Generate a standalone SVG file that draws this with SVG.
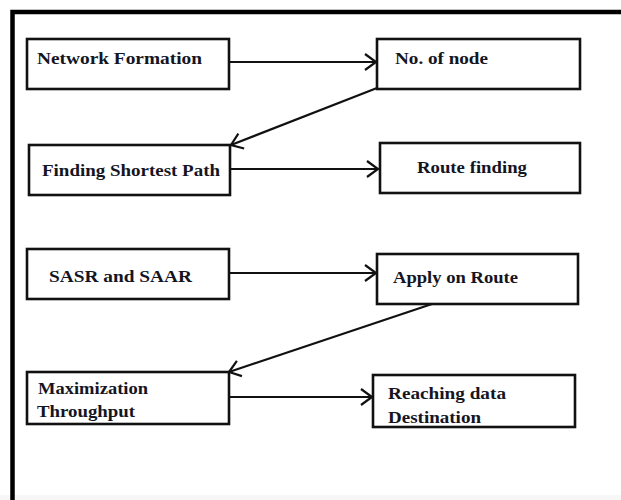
<svg xmlns="http://www.w3.org/2000/svg" width="621" height="500" viewBox="0 0 621 500">
<style>
.box{fill:#fff;stroke:#111;stroke-width:2.6}
.lbl{font-family:"Liberation Serif","Times New Roman",serif;font-weight:bold;font-size:17px;fill:#15151f}
.con{fill:none;stroke:#111;stroke-width:2.2}
.frame{stroke:#000;stroke-width:4.5;fill:none}
</style>
<defs>
<marker id="arr" markerUnits="userSpaceOnUse" markerWidth="16" markerHeight="20" viewBox="-12 -10 16 20" refX="0" refY="0" orient="auto">
<path d="M-11,-8 L0,0 L-11,8" fill="none" stroke="#111" stroke-width="2.2"/>
</marker>
</defs>
<rect x="0" y="0" width="621" height="500" fill="#fff"/>
<rect x="0" y="495" width="621" height="5" fill="#f7f7f7"/>
<path class="frame" d="M12.5,500 L12.5,12 L621,12"/>
<g id="n1"><rect class="box" x="27" y="39" width="202" height="50"/><text class="lbl" x="37" y="64" textLength="165" lengthAdjust="spacingAndGlyphs">Network Formation</text></g>
<g id="n2"><rect class="box" x="377" y="39" width="203" height="50"/><text class="lbl" x="395" y="64" textLength="93" lengthAdjust="spacingAndGlyphs">No. of node</text></g>
<g id="n3"><rect class="box" x="29" y="145" width="201" height="50"/><text class="lbl" x="42" y="176" textLength="178" lengthAdjust="spacingAndGlyphs">Finding Shortest Path</text></g>
<g id="n4"><rect class="box" x="380" y="143" width="200" height="50"/><text class="lbl" x="417" y="173" textLength="110" lengthAdjust="spacingAndGlyphs">Route finding</text></g>
<g id="n5"><rect class="box" x="27" y="249" width="202" height="50"/><text class="lbl" x="49" y="282" textLength="143" lengthAdjust="spacingAndGlyphs">SASR and SAAR</text></g>
<g id="n6"><rect class="box" x="377" y="254" width="201" height="50"/><text class="lbl" x="393" y="283" textLength="125" lengthAdjust="spacingAndGlyphs">Apply on Route</text></g>
<g id="n7"><rect class="box" x="27" y="372" width="202" height="52"/><text class="lbl" x="38" y="394" textLength="110" lengthAdjust="spacingAndGlyphs">Maximization</text><text class="lbl" x="37" y="417" textLength="98" lengthAdjust="spacingAndGlyphs">Throughput</text></g>
<g id="n8"><rect class="box" x="373" y="375" width="202" height="52"/><text class="lbl" x="388" y="399" textLength="118" lengthAdjust="spacingAndGlyphs">Reaching data</text><text class="lbl" x="388" y="423" textLength="93" lengthAdjust="spacingAndGlyphs">Destination</text></g>
<g id="connectors">
<line class="con" x1="229" y1="62" x2="376" y2="62" marker-end="url(#arr)"/>
<line class="con" x1="377" y1="88" x2="231" y2="145" marker-end="url(#arr)"/>
<line class="con" x1="230" y1="169" x2="378" y2="169" marker-end="url(#arr)"/>
<line class="con" x1="229" y1="273" x2="376" y2="273" marker-end="url(#arr)"/>
<line class="con" x1="432" y1="304" x2="229" y2="372" marker-end="url(#arr)"/>
<line class="con" x1="229" y1="397" x2="372" y2="397" marker-end="url(#arr)"/>
</g>
</svg>
